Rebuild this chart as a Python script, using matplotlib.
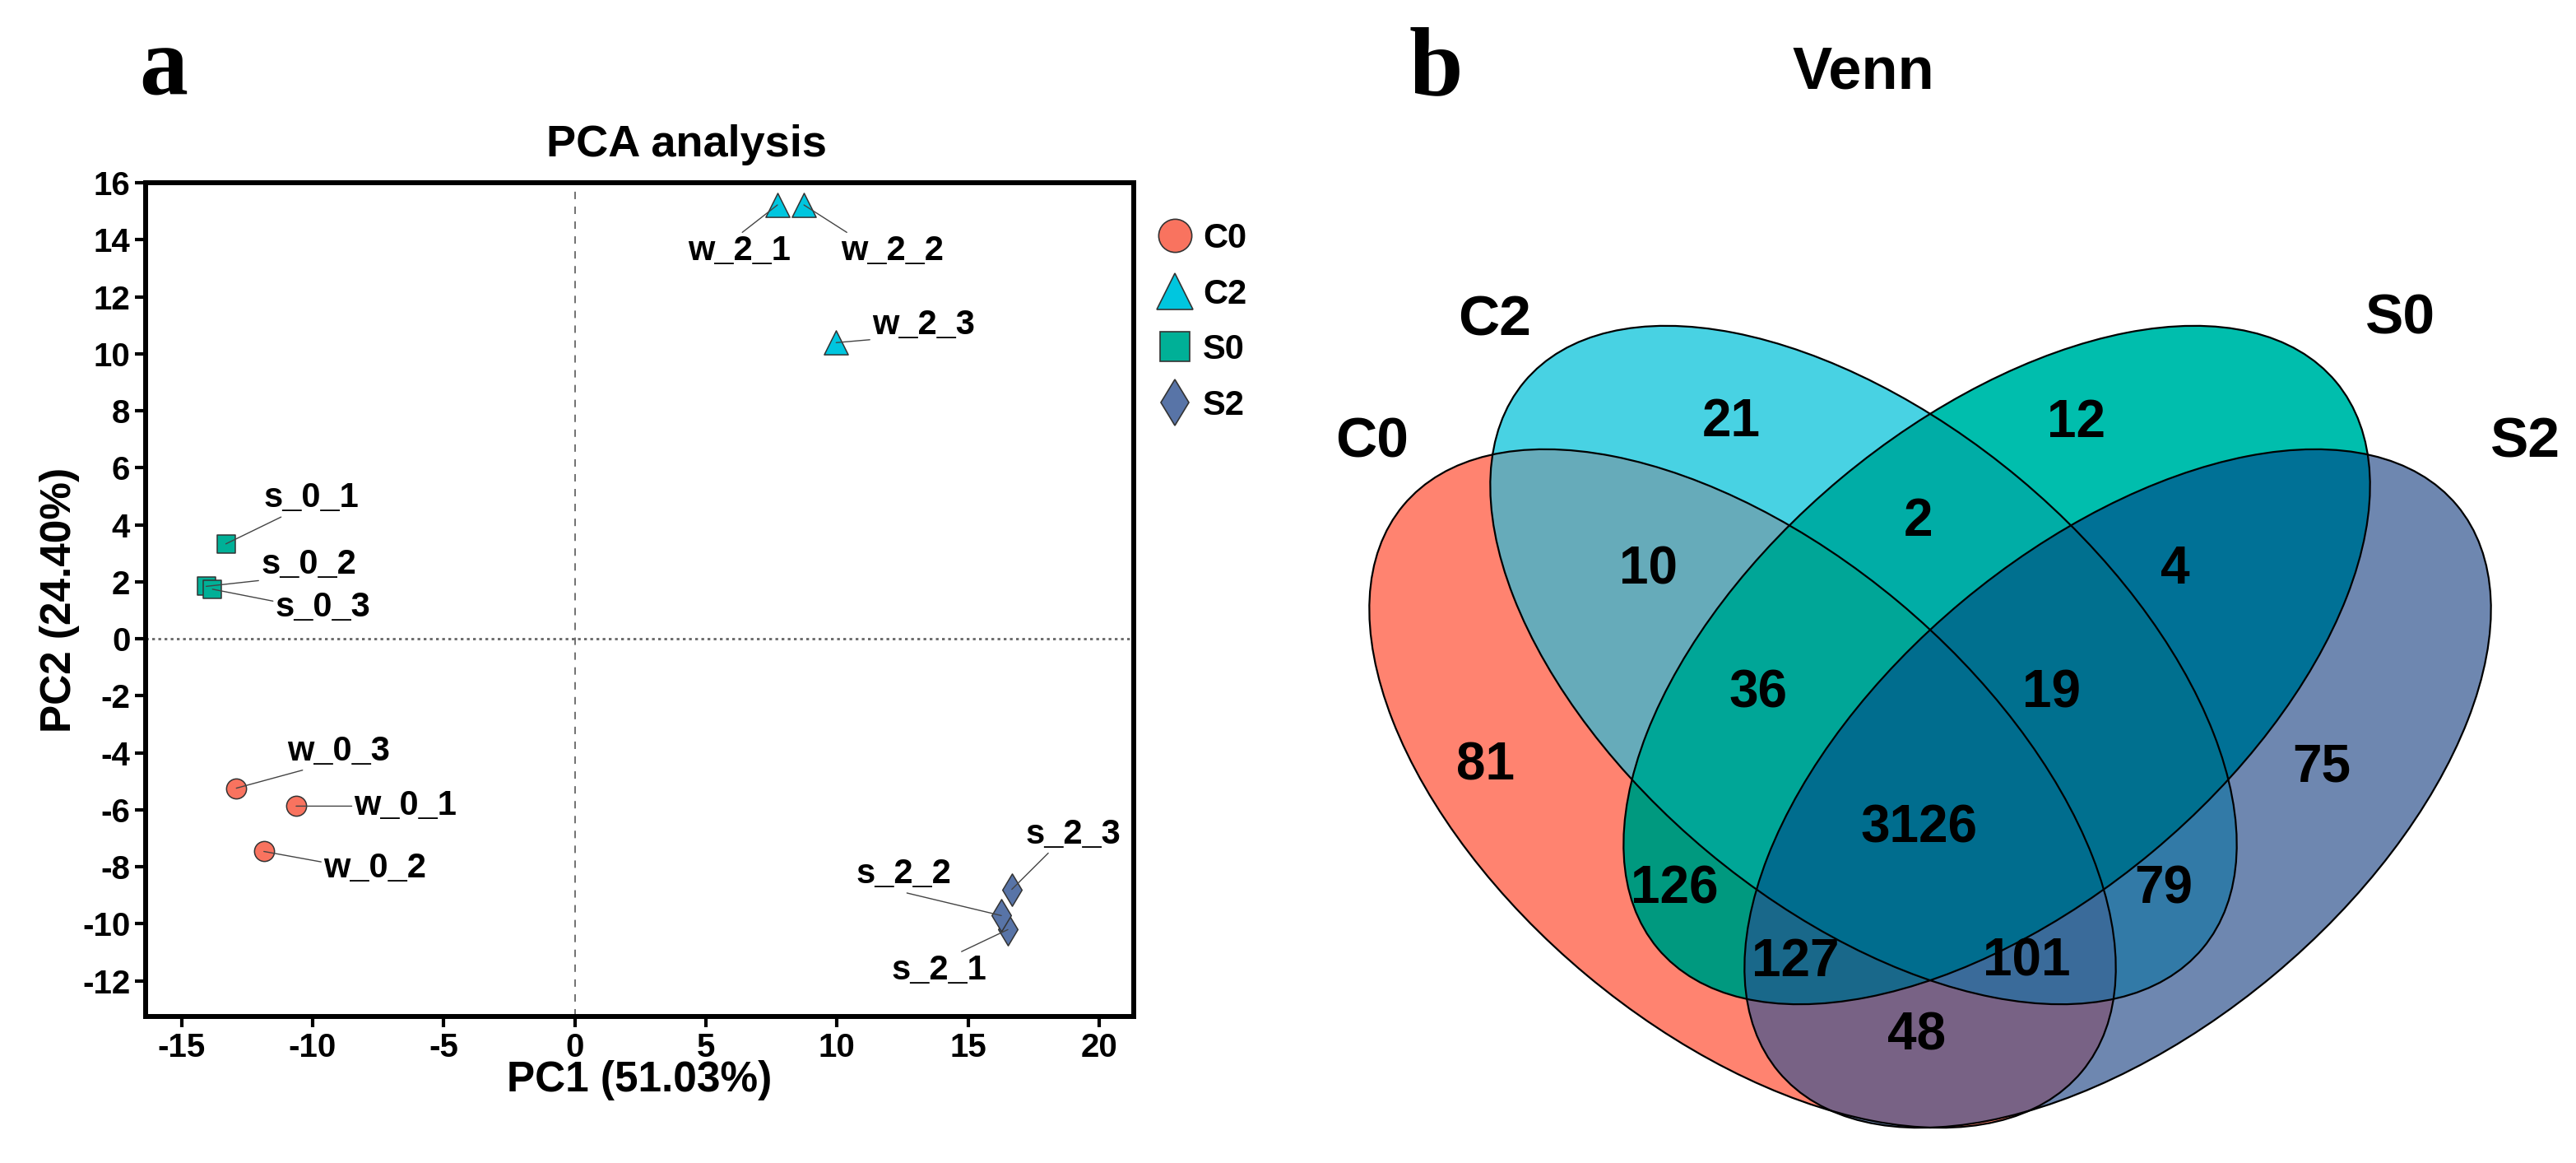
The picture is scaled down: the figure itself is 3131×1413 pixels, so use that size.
import numpy as np
import matplotlib.pyplot as plt
from matplotlib.lines import Line2D
from matplotlib.patches import Ellipse
from matplotlib.colors import to_rgba

plt.rcParams['font.family'] = ['Liberation Sans', 'DejaVu Sans']
plt.rcParams['font.weight'] = 'bold'
plt.rcParams['axes.unicode_minus'] = False

# ---------------------------------------------------------
# PCA scores (panel a)
# ---------------------------------------------------------
groups = ['C0', 'C2', 'S0', 'S2']
group_colors = ['#F9735F', '#00C6DF', '#00B097', '#5874A7']
group_markers = ['o', '^', 's', 'd']

samples = ['w_0_1', 'w_0_2', 'w_0_3', 'w_2_1', 'w_2_2', 'w_2_3',
           's_0_1', 's_0_2', 's_0_3', 's_2_1', 's_2_2', 's_2_3']
sample_group = ['C0'] * 3 + ['C2'] * 3 + ['S0'] * 3 + ['S2'] * 3
pc1 = [-10.63, -11.86, -12.91, 7.73, 8.74, 9.97,
       -13.31, -14.06, -13.82, 16.52, 16.27, 16.67]
pc2 = [-5.87, -7.46, -5.24, 15.22, 15.22, 10.39,
       3.33, 1.84, 1.74, -10.20, -9.71, -8.79]

# where the repelled labels ended up
label_x = [-6.46, -7.63, -9.01, 6.26, 12.1, 13.3,
           -10.06, -10.16, -9.61, 13.9, 12.55, 19.01]
label_y = [-5.87, -8.05, -3.95, 13.6, 13.6, 11.0,
           4.93, 2.59, 1.11, -11.63, -8.26, -6.86]
label_anchor = [(0.32, 0.5), (0.32, 0.5), (0.29, 0.05), (0.34, 0.6), (0.32, 0.55), (0.31, 0.15),
                (0.27, 0.05), (0.37, 0.15), (0.3, 0.5), (0.32, 0.5), (0.36, 0.05), (0.28, 0.05)]

pc1_label = 'PC1 (51.03%)'
pc2_label = 'PC2 (24.40%)'

# ---------------------------------------------------------
# Venn counts (panel b), region code = membership in C0 C2 S0 S2
# ---------------------------------------------------------
venn_sets = ['C0', 'C2', 'S0', 'S2']
venn_regions = ['1000', '0100', '0010', '0001', '1100', '0110', '0011', '1001',
                '1110', '0111', '1010', '0101', '1011', '1101', '1111']
venn_counts = [81, 21, 12, 75, 10, 2, 4, 48, 36, 19, 126, 79, 127, 101, 3126]
region_colors = ['#FF8370', '#48D2E3', '#00BEAD', '#6E87B0', '#66ABBA', '#00ADA6',
                 '#007196', '#786285', '#00A697', '#00708F', '#00997F', '#327AA7',
                 '#19688A', '#3A6B9A', '#006D8E']
# label positions in pixels
count_px = [(1806, 931), (2104, 513), (2524, 514), (2822, 932), (2004, 692), (2332, 634),
            (2644, 692), (2330, 1259), (2137, 842), (2494, 842), (2035, 1080), (2630, 1081),
            (2182, 1169), (2463, 1169), (2332, 1006)]
set_label_px = [(1668, 555), (1817, 407), (2918, 405), (3069, 555)]

# ellipse geometry (pixels)
ell_cx = [2118, 2265, 2427, 2574]
ell_cy = [958, 808, 808, 958]
ell_ang = [39.85, 39.85, -39.85, -39.85]
ell_a, ell_b = 537, 295.5

W, H = 3131, 1413
fig = plt.figure(figsize=(W / 100, H / 100), dpi=100)

# ---------------- panel a ----------------
ax = fig.add_axes([177 / W, 1 - 1235 / H, 1201 / W, 1013 / H])
ax.axvline(0, color='#666666', lw=1.3, ls=(0, (5, 5)), zorder=0)
ax.axhline(0, color='#666666', lw=2.0, ls=(0, (1.2, 1.5)), zorder=0)

plot_sizes = [17.5, 21, 15.5, 20]
for g, col, mk, ms in zip(groups, group_colors, group_markers, plot_sizes):
    idx = [i for i, s in enumerate(sample_group) if s == g]
    ax.scatter([pc1[i] for i in idx], [pc2[i] for i in idx], marker=mk, s=ms ** 2,
               c=col, edgecolors='#333333', linewidths=1.1, zorder=3)

for i, name in enumerate(samples):
    ax.annotate(name, xy=(pc1[i], pc2[i]), xytext=(label_x[i], label_y[i]),
                ha='center', va='center', fontsize=30, fontweight='bold',
                arrowprops=dict(arrowstyle='-', color='#444444', lw=1.0,
                                shrinkA=0, shrinkB=0, relpos=label_anchor[i]),
                zorder=4)

ax.set_xlim(-16.37, 21.32)
ax.set_ylim(-13.25, 16.0)
ax.set_xticks(range(-15, 21, 5))
ax.set_yticks(range(-12, 17, 2))
for sp in ax.spines.values():
    sp.set_linewidth(4.3)
ax.tick_params(width=3, length=9.5, labelsize=29, pad=4)
ax.set_xlabel(pc1_label, fontsize=37, fontweight='bold')
ax.set_ylabel(pc2_label, fontsize=37, fontweight='bold')
ax.xaxis.set_label_coords(0.5, -0.052)
ax.yaxis.set_label_coords(-0.067, 0.5)

handles = [Line2D([], [], marker=mk, ls='none', markersize=ms, markerfacecolor=col,
                  markeredgecolor='#333333', markeredgewidth=1.2)
           for mk, col, ms in zip(group_markers, group_colors, [29, 31, 26.5, 29])]
ax.legend(handles, groups, loc='upper left', bbox_to_anchor=(1.0108, 0.969), frameon=False,
          fontsize=30, handlelength=1.0, handletextpad=0.31, labelspacing=0.66,
          borderaxespad=0)

fig.text(835 / W, 1 - 190 / H, 'PCA analysis', ha='center', va='baseline', fontsize=39)
fig.text(199 / W, 1 - 114 / H, 'a', ha='center', va='baseline', fontsize=85,
         family=['Liberation Serif', 'DejaVu Serif'], fontweight='bold')
fig.text(1745 / W, 1 - 114 / H, 'b', ha='center', va='baseline', fontsize=85,
         family=['Liberation Serif', 'DejaVu Serif'], fontweight='bold')

# ---------------- panel b ----------------
axv = fig.add_axes([0, 0, 1, 1])
axv.axis('off')

x0, x1, y0, y1 = 1600, 3100, 340, 1400
X, Y = np.meshgrid(np.arange(x0, x1) + 0.5, np.arange(y0, y1) + 0.5)
code = np.zeros(X.shape, dtype=int)
for k in range(4):
    th = np.radians(ell_ang[k])
    dx, dy = X - ell_cx[k], Y - ell_cy[k]
    u = dx * np.cos(th) + dy * np.sin(th)
    v = -dx * np.sin(th) + dy * np.cos(th)
    inside = (u / ell_a) ** 2 + (v / ell_b) ** 2 <= 1
    code += inside.astype(int) << (3 - k)
lut = np.zeros((16, 4))
for key, col in zip(venn_regions, region_colors):
    lut[int(key, 2)] = to_rgba(col)
axv.imshow(lut[code], extent=(x0, x1, y1, y0), interpolation='nearest', aspect='auto', zorder=1)

for k in range(4):
    axv.add_patch(Ellipse((ell_cx[k], ell_cy[k]), 2 * ell_a, 2 * ell_b, angle=ell_ang[k],
                          fill=False, ec='black', lw=1.6, zorder=2))

for (px, py), n in zip(count_px, venn_counts):
    axv.text(px, py, str(n), ha='center', va='center', fontsize=46, fontweight='bold', zorder=3)
for (px, py), name in zip(set_label_px, venn_sets):
    axv.text(px, py, name, ha='center', va='baseline', fontsize=50, fontweight='bold')
axv.text(2265, 107, 'Venn', ha='center', va='baseline', fontsize=52, fontweight='bold')

axv.set_xlim(0, W)
axv.set_ylim(H, 0)

fig.savefig('out.png', dpi=100)
